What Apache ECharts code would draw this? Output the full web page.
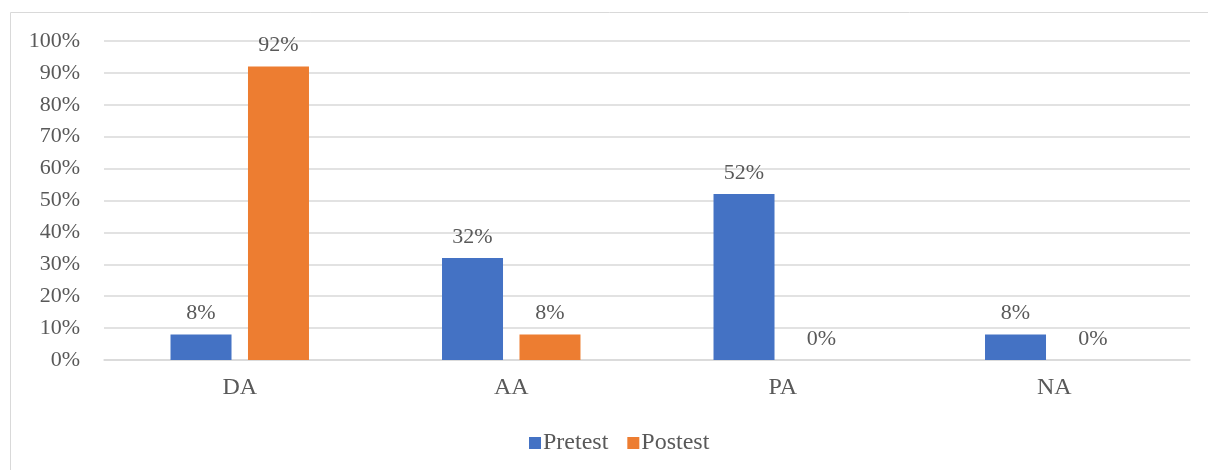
<!DOCTYPE html>
<html>
<head>
<meta charset="utf-8">
<script src="https://cdn.jsdelivr.net/npm/echarts@6/dist/echarts.min.js"></script>
<style>
html,body{margin:0;padding:0;background:#fff;}
#c{width:1208px;height:470px;}
</style>
</head>
<body>
<div id="c"></div>
<script>
const categories = ['DA', 'AA', 'PA', 'NA'];
const pretest = [8, 32, 52, 8];
const postest = [92, 8, 0, 0];
const seriesNames = ['Pretest', 'Postest'];

const FONT = '"Liberation Serif", "Times New Roman", serif';
const TXT = '#595959';
const chart = echarts.init(document.getElementById('c'));
const labelCfg = {
  show: true, position: 'top', distance: 10,
  color: TXT, fontFamily: FONT, fontSize: 22,
  formatter: p => p.value + '%'
};
chart.setOption({
  animation: false,
  graphic: [{
    type: 'rect',
    shape: { x: 10.5, y: 12.5, width: 1300, height: 600 },
    style: { fill: 'none', stroke: '#d9d9d9', lineWidth: 1 },
    silent: true
  }],
  grid: { left: 104, right: 18, top: 41, bottom: 110, containLabel: false },
  legend: {
    data: seriesNames,
    left: 524, top: 426,
    itemWidth: 12, itemHeight: 12, itemGap: 19,
    icon: 'rect',
    textStyle: { color: TXT, fontFamily: FONT, fontSize: 24, padding: [0, 0, 0, -3] }
  },
  xAxis: {
    type: 'category', data: categories,
    axisLine: { lineStyle: { color: '#d9d9d9', width: 1.5 } },
    axisTick: { show: false },
    axisLabel: { color: TXT, fontFamily: FONT, fontSize: 24, margin: 16 }
  },
  yAxis: {
    type: 'value', min: 0, max: 100, interval: 10,
    axisLine: { show: false },
    axisTick: { show: false },
    splitLine: { lineStyle: { color: '#d9d9d9', width: 1.5 } },
    axisLabel: { color: TXT, fontFamily: FONT, fontSize: 22, margin: 24, formatter: '{value}%' }
  },
  series: [
    { name: seriesNames[0], type: 'bar', data: pretest, barWidth: 61, barGap: '27%',
      itemStyle: { color: '#4472C4' }, label: labelCfg },
    { name: seriesNames[1], type: 'bar', data: postest, barWidth: 61,
      itemStyle: { color: '#ED7D31' }, label: labelCfg }
  ]
});
</script>
</body>
</html>
